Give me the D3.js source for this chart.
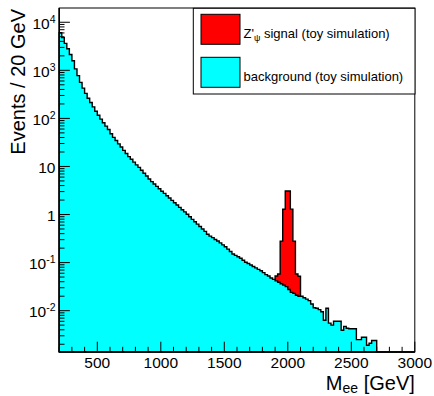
<!DOCTYPE html>
<html>
<head>
<meta charset="utf-8">
<script src="https://cdn.jsdelivr.net/npm/d3@7"></script>
<style>
  body { margin: 0; background: #fff; }
  text { font-family: "Liberation Sans", Arial, Helvetica, sans-serif; }
</style>
</head>
<body>
<div id="chart-area"></div>
<script>
// binning: 20 GeV bins from 200 to 3000
const binStart = 200;
const binWidth = 20;

// background (toy simulation), events per bin
const bgCounts = [
  6030, 4790, 3630, 2820, 2140, 1580, 1070, 776, 562, 427,
  331, 263, 214, 174, 141, 116, 96.6, 81.3, 69.2, 58.9,
  47.9, 40.3, 34.7, 29.5, 25.4, 21.6, 18.6, 16.0, 14.1, 12.3,
  10.8, 9.55, 8.32, 7.24, 6.31, 5.50, 4.84, 4.32, 3.85, 3.43,
  3.05, 2.75, 2.45, 2.21, 1.97, 1.76, 1.58, 1.41, 1.26, 1.135,
  1.01, 0.90, 0.794, 0.708, 0.631, 0.562, 0.501, 0.447, 0.389, 0.355,
  0.331, 0.302, 0.282, 0.257, 0.234, 0.214, 0.191, 0.170, 0.151, 0.141,
  0.132, 0.123, 0.112, 0.102, 0.0955, 0.0891, 0.0832, 0.0776, 0.0724, 0.0676,
  0.0617, 0.0562, 0.0525, 0.0479, 0.0447, 0.0417, 0.0389, 0.0363, 0.0339, 0.0316,
  0.0275, 0.0240, 0.0229, 0.0209, 0.0200, 0.0200, 0.0186, 0.0174, 0.0162, 0.0138,
  0.0115, 0.0112, 0.0105, 0.0095, 0.0063, 0.0112, 0.0055, 0.0050, 0.0060, 0.0060,
  0.0060, 0.0039, 0.0047, 0.0043, 0.0042, 0.0042, 0.0042, 0.0025, 0.0025, 0.0028,
  0.0028, 0.0019, 0.0021, 0.0024, 0.0024, 0, 0, 0, 0, 0,
  0, 0, 0, 0, 0, 0, 0, 0, 0, 0
];

// Z' signal (toy simulation), first bin starts at 1900 GeV
const sigStart = 1900;
const sigCounts = [0.011, 0.019, 0.244, 1.256, 3.06, 3.06, 1.27, 0.257, 0.037, 0.032];

const xMajorTicks = [500, 1000, 1500, 2000, 2500, 3000];
const yMajorTicks = [1e-2, 1e-1, 1, 10, 1e2, 1e3, 1e4];
const yTickBase = ["10", "10", "1", "10", "10", "10", "10"];
const yTickExp  = ["-2", "-1", "", "", "2", "3", "4"];

const legendLabels = ["signal (toy simulation)", "background (toy simulation)"];
const legendColors = ["#ff0000", "#00ffff"];

const width = 434;
const height = 396;
const frameL = 59.2, frameR = 414.8, frameT = 8, frameB = 352;

const svg = d3.select("#chart-area")
    .append("svg")
    .attr("width", width)
    .attr("height", height);

svg.append("rect").attr("width", width).attr("height", height).attr("fill", "#fff");

const x = d3.scaleLinear().domain([200, 3000]).range([frameL, frameR]);
const y = d3.scaleLog().domain([1.38e-3, 1.98e4]).range([frameB, frameT]);

const yOf = v => (v > y.domain()[0] ? y(v) : frameB);

// step outline of a histogram, closed to the bottom of the frame
function stepPath(start, vals) {
    const p = d3.path();
    p.moveTo(x(start), frameB);
    vals.forEach((v, i) => {
        const e0 = start + i * binWidth, e1 = e0 + binWidth;
        p.lineTo(x(e0), yOf(v));
        p.lineTo(x(e1), yOf(v));
    });
    p.lineTo(x(start + vals.length * binWidth), frameB);
    p.closePath();
    return p.toString();
}

// signal stacked on top of background
const sigOffset = (sigStart - binStart) / binWidth;
const stacked = sigCounts.map((s, i) => s + bgCounts[sigOffset + i]);

svg.append("path")
    .attr("d", stepPath(sigStart, stacked))
    .attr("fill", "#ff0000")
    .attr("stroke", "#000")
    .attr("stroke-width", 1.4)
    .attr("stroke-linejoin", "miter");

svg.append("path")
    .attr("d", stepPath(binStart, bgCounts))
    .attr("fill", "#00ffff")
    .attr("stroke", "#000")
    .attr("stroke-width", 1.4)
    .attr("stroke-linejoin", "miter");

// frame
svg.append("rect")
    .attr("x", frameL).attr("y", frameT)
    .attr("width", frameR - frameL).attr("height", frameB - frameT)
    .attr("fill", "none").attr("stroke", "#000").attr("stroke-width", 1);

const axisG = svg.append("g").attr("stroke", "#000");

// x axis
axisG.append("line").attr("x1", frameL).attr("x2", frameR).attr("y1", frameB).attr("y2", frameB).attr("stroke-width", 1.6);
x.ticks(28).forEach(t => {
    const major = xMajorTicks.includes(t);
    axisG.append("line")
        .attr("x1", x(t)).attr("x2", x(t))
        .attr("y1", frameB).attr("y2", frameB - (major ? 10.3 : 5.2))
        .attr("stroke-width", 1);
});
svg.selectAll(".xlabel")
    .data(xMajorTicks)
    .enter()
    .append("text")
    .attr("class", "xlabel")
    .attr("x", d => x(d))
    .attr("y", 368.3)
    .attr("text-anchor", "middle")
    .attr("font-size", 15.5)
    .text(d => d);

// y axis
axisG.append("line").attr("x1", frameL).attr("x2", frameL).attr("y1", frameT).attr("y2", frameB).attr("stroke-width", 1.6);
y.ticks().forEach(t => {
    const major = yMajorTicks.some(m => Math.abs(m - t) / m < 1e-6);
    if (y(t) < frameT || y(t) > frameB) return;
    axisG.append("line")
        .attr("x1", frameL).attr("x2", frameL + (major ? 10.7 : 5.3))
        .attr("y1", y(t)).attr("y2", y(t))
        .attr("stroke-width", 1);
});
yMajorTicks.forEach((t, i) => {
    const txt = svg.append("text")
        .attr("x", 55.5)
        .attr("y", y(t) + 6.5)
        .attr("text-anchor", "end")
        .attr("font-size", 15.5);
    txt.append("tspan").text(yTickBase[i]);
    if (yTickExp[i]) {
        txt.append("tspan")
            .attr("font-size", 10.5)
            .attr("dy", -6)
            .text(yTickExp[i]);
    }
});

// axis titles
const xt = svg.append("text")
    .attr("x", frameR)
    .attr("y", 389.5)
    .attr("text-anchor", "end")
    .attr("font-size", 20);
xt.append("tspan").text("M");
xt.append("tspan").attr("font-size", 14).attr("dy", 3.5).text("ee");
xt.append("tspan").attr("dy", -3.5).text(" [GeV]");

svg.append("text")
    .attr("transform", "translate(25,9) rotate(-90)")
    .attr("text-anchor", "end")
    .attr("font-size", 20)
    .text("Events / 20 GeV");

// legend
const lg = svg.append("g");
lg.append("rect")
    .attr("x", 193.3).attr("y", 8.3)
    .attr("width", 415 - 193.3).attr("height", 94 - 8.3)
    .attr("fill", "#fff").attr("stroke", "#000").attr("stroke-width", 1);

legendColors.forEach((c, i) => {
    const by = 14.3 + i * 43;
    lg.append("rect")
        .attr("x", 201).attr("y", by)
        .attr("width", 39).attr("height", 30)
        .attr("fill", c).attr("stroke", "#000").attr("stroke-width", 1);
    const t = lg.append("text")
        .attr("x", 243.5)
        .attr("y", by + 23.3)
        .attr("font-size", 13);
    if (i === 0) {
        t.append("tspan").text("Z'");
        t.append("tspan").attr("font-size", 9).attr("dy", 3).text("\u03c8");
        t.append("tspan").attr("dy", -3).text(" " + legendLabels[i]);
    } else {
        t.text(legendLabels[i]);
    }
});
</script>
</body>
</html>
